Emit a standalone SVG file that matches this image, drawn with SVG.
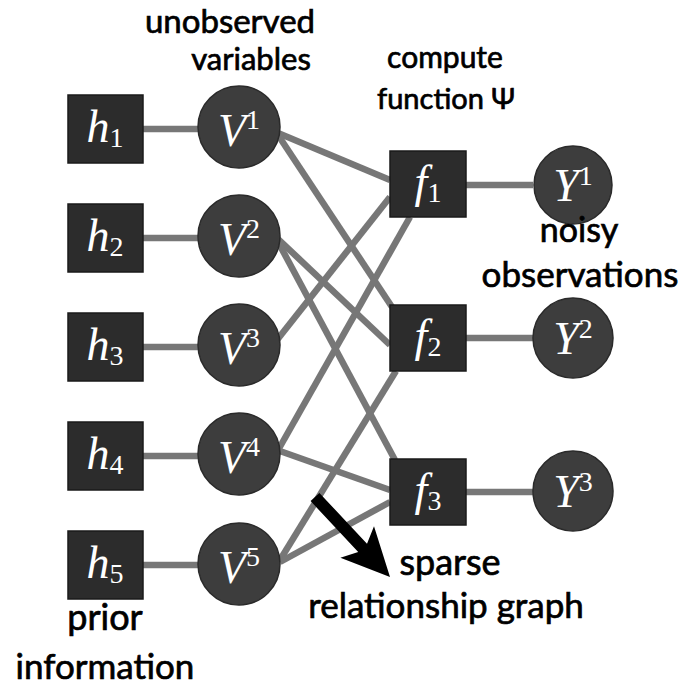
<svg xmlns="http://www.w3.org/2000/svg" width="682" height="687" viewBox="0 0 682 687">
<style>
.sq{fill:#2c2c2c;stroke:#1a1a1a;stroke-width:1.5}
.ci{fill:#3d3d3d;stroke:#2a2a2a;stroke-width:1.5}
.edge{stroke:#777777;stroke-width:6.5;fill:none;stroke-linecap:butt}
.mi{font-family:"Liberation Serif","Times New Roman",serif;font-style:italic;font-size:46px;fill:#ffffff;text-anchor:middle}
.idx{font-style:normal;font-size:28px}
.lbl{font-family:Lato,"Open Sans","Liberation Sans",sans-serif;fill:#000;stroke:#000;stroke-width:0.7;text-anchor:middle}
</style>
<rect width="682" height="687" fill="#ffffff"/>
<g id="connectors">
<line class="edge" x1="143" y1="129" x2="198" y2="129"/>
<line class="edge" x1="143" y1="238" x2="198" y2="238"/>
<line class="edge" x1="143" y1="347" x2="198" y2="347"/>
<line class="edge" x1="143" y1="456" x2="198" y2="456"/>
<line class="edge" x1="143" y1="565" x2="198" y2="565"/>
<line class="edge" x1="278" y1="133" x2="390" y2="180"/>
<line class="edge" x1="278" y1="135" x2="392" y2="307"/>
<line class="edge" x1="277" y1="238" x2="390" y2="345"/>
<line class="edge" x1="277" y1="240" x2="395" y2="460"/>
<line class="edge" x1="277" y1="340" x2="390" y2="197"/>
<line class="edge" x1="277" y1="452" x2="410" y2="217"/>
<line class="edge" x1="277" y1="450" x2="390" y2="490"/>
<line class="edge" x1="280" y1="560" x2="396" y2="371"/>
<line class="edge" x1="280" y1="562" x2="390" y2="502"/>
<line class="edge" x1="466" y1="185" x2="533" y2="185"/>
<line class="edge" x1="466" y1="338" x2="533" y2="338"/>
<line class="edge" x1="466" y1="492" x2="533" y2="492"/>
</g>
<g id="h1"><rect class="sq" x="68" y="95" width="75" height="68"/><text class="mi" x="105" y="142">h<tspan class="idx" dy="5">1</tspan></text></g>
<g id="h2"><rect class="sq" x="68" y="204" width="75" height="68"/><text class="mi" x="105" y="251">h<tspan class="idx" dy="5">2</tspan></text></g>
<g id="h3"><rect class="sq" x="68" y="313" width="75" height="68"/><text class="mi" x="105" y="360">h<tspan class="idx" dy="5">3</tspan></text></g>
<g id="h4"><rect class="sq" x="68" y="422" width="75" height="68"/><text class="mi" x="105" y="469">h<tspan class="idx" dy="5">4</tspan></text></g>
<g id="h5"><rect class="sq" x="68" y="531" width="75" height="68"/><text class="mi" x="105" y="578">h<tspan class="idx" dy="5">5</tspan></text></g>
<g id="V1"><circle class="ci" cx="239" cy="127" r="41"/><text class="mi" x="239" y="146">V<tspan class="idx" dy="-17">1</tspan></text></g>
<g id="V2"><circle class="ci" cx="239" cy="236" r="41"/><text class="mi" x="239" y="255">V<tspan class="idx" dy="-17">2</tspan></text></g>
<g id="V3"><circle class="ci" cx="239" cy="345" r="41"/><text class="mi" x="239" y="364">V<tspan class="idx" dy="-17">3</tspan></text></g>
<g id="V4"><circle class="ci" cx="239" cy="454" r="41"/><text class="mi" x="239" y="473">V<tspan class="idx" dy="-17">4</tspan></text></g>
<g id="V5"><circle class="ci" cx="239" cy="564" r="41"/><text class="mi" x="239" y="583">V<tspan class="idx" dy="-17">5</tspan></text></g>
<g id="f1"><rect class="sq" x="390" y="151" width="76" height="66"/><text class="mi" x="428" y="197">f<tspan class="idx" dy="5">1</tspan></text></g>
<g id="f2"><rect class="sq" x="390" y="305" width="76" height="66"/><text class="mi" x="428" y="351">f<tspan class="idx" dy="5">2</tspan></text></g>
<g id="f3"><rect class="sq" x="390" y="459" width="76" height="66"/><text class="mi" x="428" y="505">f<tspan class="idx" dy="5">3</tspan></text></g>
<g id="Y1"><circle class="ci" cx="573" cy="185" r="39"/><text class="mi" x="573" y="201">Y<tspan class="idx" dy="-16">1</tspan></text></g>
<g id="Y2"><circle class="ci" cx="573" cy="338" r="40"/><text class="mi" x="573" y="354">Y<tspan class="idx" dy="-16">2</tspan></text></g>
<g id="Y3"><circle class="ci" cx="573" cy="491" r="40"/><text class="mi" x="573" y="507">Y<tspan class="idx" dy="-16">3</tspan></text></g>
<g id="arrow"><polygon fill="#000" points="310.6,501.1 358.2,551.9 340.4,557.7 390,577 374,526.3 367,543.7 319.4,492.9"/></g>
<g id="labels">
<text class="lbl" x="230" y="33" style="font-size:33px">unobserved</text>
<text class="lbl" x="251" y="70" style="font-size:31px">variables</text>
<text class="lbl" x="445" y="68" style="font-size:30px">compute</text>
<text class="lbl" x="446" y="109" style="font-size:29px">function Ψ</text>
<text class="lbl" x="579" y="242" style="font-size:34px">noisy</text>
<text class="lbl" x="580" y="287" style="font-size:35px">observations</text>
<text class="lbl" x="450" y="575" style="font-size:36px">sparse</text>
<text class="lbl" x="446" y="618" style="font-size:35px">relationship graph</text>
<text class="lbl" x="105" y="630" style="font-size:36px">prior</text>
<text class="lbl" x="105" y="679" style="font-size:35px">information</text>
</g>
</svg>
